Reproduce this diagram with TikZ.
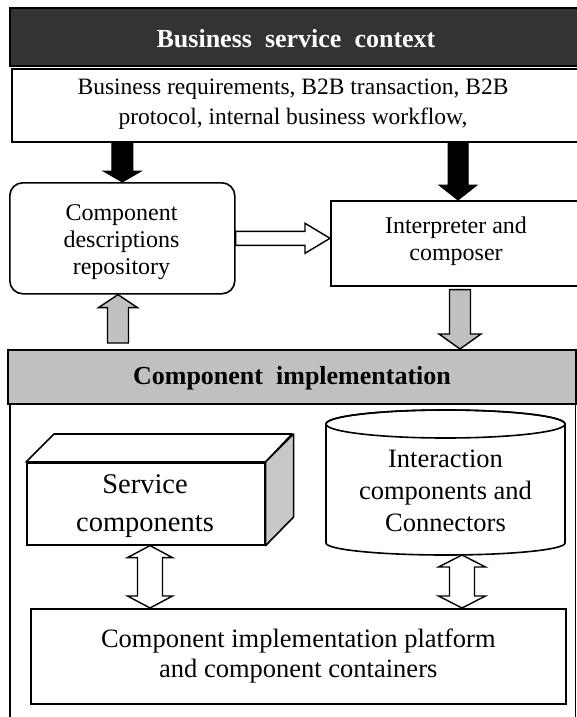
\documentclass[tikz,border=0pt]{standalone}
\usepackage{fontspec}
\setmainfont{Liberation Serif}
\usetikzlibrary{calc}
\definecolor{hdrgray}{RGB}{51,51,51}
\definecolor{midgray}{RGB}{192,192,192}
\definecolor{sidegray}{RGB}{200,200,200}
\newcommand\getarrowframe[2]{%
  \path let \p1=(#1), \p2=(#2) in \pgfextra{%
    \pgfmathparse{atan2((\y2)-(\y1),(\x2)-(\x1))}\global\let\baang\pgfmathresult
    \pgfmathparse{veclen((\x2)-(\x1),(\y2)-(\y1))}\global\let\balen\pgfmathresult
    \pgfmathparse{\x1}\global\let\bax\pgfmathresult
    \pgfmathparse{\y1}\global\let\bay\pgfmathresult};}
\newcommand\blockarrow[6]{%
  \getarrowframe{#2}{#3}%
  \begin{scope}[shift={(\bax pt,\bay pt)}, rotate=\baang]
    \draw[#1] (0,-#4) -- ({\balen-#6},-#4) -- ({\balen-#6},-#5) -- (\balen,0)
      -- ({\balen-#6},#5) -- ({\balen-#6},#4) -- (0,#4) -- cycle;
  \end{scope}}
\newcommand\dblarrow[6]{%
  \getarrowframe{#2}{#3}%
  \begin{scope}[shift={(\bax pt,\bay pt)}, rotate=\baang]
    \draw[#1] (0,0) -- (#6,-#5) -- (#6,-#4) -- ({\balen-#6},-#4) -- ({\balen-#6},-#5)
      -- (\balen,0) -- ({\balen-#6},#5) -- ({\balen-#6},#4) -- (#6,#4) -- (#6,#5) -- cycle;
  \end{scope}}
\begin{document}
\begin{tikzpicture}[x=1pt,y=-1pt,
  bx/.style={draw=black, line width=1.6pt, inner sep=0pt, anchor=north west, align=center},
  txt/.style={align=center, inner sep=0pt},
  blk/.style={draw=black, fill=black, line width=1pt},
  wht/.style={draw=black, fill=white, line width=1.4pt},
  gry/.style={draw=black, fill=midgray, line width=1.4pt},
  face/.style={draw=black, line width=1.6pt, line join=round},
]
\useasboundingbox (0,0) rectangle (577,717);
\clip (0,0) rectangle (577,717);
\fill[white] (0,0) rectangle (577,717);

% top context
\node[bx, fill=hdrgray, minimum width=600pt, minimum height=58pt] (hdr) at (9,7) {};
\node[txt, text=white, font=\fontsize{26}{30}\selectfont\bfseries] (hdrtxt) at (296,39) {Business\ \ service\ \ context};
\node[bx, fill=white, minimum width=600pt, minimum height=73pt] (req) at (11,68) {};
\node[txt, font=\fontsize{23.5}{30}\selectfont] (reqtxt) at (293,104) {Business requirements, B2B transaction, B2B\\protocol, internal business workflow,};

% middle boxes
\node[bx, rounded corners=13pt, fill=white, minimum width=225pt, minimum height=111pt] (repo) at (9,182) {};
\node[txt, font=\fontsize{24}{27}\selectfont] (repotxt) at (121.5,242) {Component\\descriptions\\repository};
\node[bx, fill=white, minimum width=260pt, minimum height=85pt] (interp) at (330,200) {};
\node[txt, font=\fontsize{24}{27}\selectfont] (interptxt) at (456,241) {Interpreter and\\composer};

% implementation bar and frame
\node[bx, fill=midgray, minimum width=568pt, minimum height=54pt] (impl) at (7,349) {};
\node[txt, font=\fontsize{26}{30}\selectfont\bfseries] (impltxt) at (292,378) {Component\ \ implementation};
\draw[line width=1.6pt] ($(impl.south west)+(3,0)$) -- ++(0,330);
\draw[line width=1.6pt] ($(impl.south east)+(-1,0)$) -- ++(0,330);

% service components (3D box)
\node[bx, fill=white, minimum width=238pt, minimum height=82pt] (svc) at (26,462) {};
\draw[face, fill=white] (svc.north west) -- ++(28,-28) -- ++(238,0) -- (svc.north east) -- cycle;
\draw[face, fill=sidegray] (svc.north east) -- ++(28,-28) -- ++(0,83) -- (svc.south east) -- cycle;
\node[txt, font=\fontsize{28.5}{38}\selectfont] (svctxt) at (145,506) {Service\\components};

% interaction components cylinder
\draw[face, fill=white] (326,424) -- (326,543)
  arc[start angle=180, end angle=360, x radius=119.5pt, y radius=12pt] -- (565,424)
  arc[start angle=0, end angle=180, x radius=119.5pt, y radius=14pt] -- cycle;
\draw[face] (445.5,424) ellipse[x radius=119.5pt, y radius=14pt];
\node[txt, font=\fontsize{26.5}{32}\selectfont] (icc) at (445.5,491) {Interaction\\components and\\Connectors};
\coordinate (cylbot) at (445.5,555);

% platform
\node[bx, fill=white, minimum width=535pt, minimum height=95pt,
      font=\fontsize{26.5}{30}\selectfont] (plat) at (30,608) {Component implementation platform\\and component containers};

% arrow axes
\coordinate (xR) at (458,0);
\coordinate (xUp) at (118,0);
\coordinate (xDn) at (460,0);
\coordinate (xDL) at (150,0);
\coordinate (xDR) at (462,0);

% arrows
\blockarrow{blk}{req.south -| repo.north}{repo.north}{10.5}{19}{11}
\blockarrow{blk}{req.south -| xR}{interp.north -| xR}{10}{19}{15}
\blockarrow{wht}{repo.east}{repo.east -| interp.west}{7}{15}{25}
\blockarrow{gry}{$(impl.north -| xUp)+(0,-6)$}{repo.south -| xUp}{10.5}{19.5}{13}
\blockarrow{gry}{$(interp.south -| xDn)+(0,3)$}{impl.north -| xDn}{10.5}{21}{15}
\dblarrow{wht}{svc.south -| xDL}{plat.north -| xDL}{12.5}{22.5}{12}
\dblarrow{wht}{cylbot -| xDR}{plat.north -| xDR}{12.5}{23.5}{12}
\end{tikzpicture}
\end{document}
